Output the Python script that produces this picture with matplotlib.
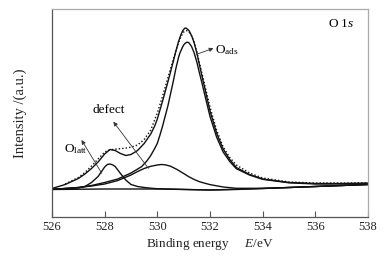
import matplotlib
matplotlib.use("Agg")
import matplotlib.pyplot as plt

plt.rcParams['font.family'] = ['Liberation Serif', 'DejaVu Serif']
plt.rcParams['mathtext.fontset'] = 'custom'
plt.rcParams['mathtext.rm'] = 'Liberation Serif'
plt.rcParams['mathtext.it'] = 'Liberation Serif:italic'

# O 1s XPS spectrum (intensity in a.u.)
bg_e = [526, 528, 530, 531, 532, 533, 534, 535, 536, 537, 538]
bg_i = [27.5, 28, 28, 27.5, 27, 27.5, 28.5, 29.5, 30.5, 31.5, 32.5]

latt_e = [526, 527, 527.25, 527.5, 527.75, 528, 528.1, 528.2, 528.3, 528.4, 528.6,
          528.8, 529, 529.25, 529.5, 529.75, 530, 531, 532, 534, 536, 538]
latt_i = [27.8, 29, 30.5, 34.5, 40.5, 50, 52.5, 53, 52.2, 50.5, 43.5,
          37, 32.5, 30.5, 29.5, 28.8, 28.3, 27.6, 27, 28.5, 30.5, 32.5]

defect_e = [526, 527, 527.5, 528, 528.5, 529, 529.25, 529.5, 529.75, 530, 530.15,
            530.3, 530.5, 530.75, 531, 531.2, 531.4, 531.6, 531.8, 532, 532.5,
            533, 534, 535, 536, 537, 538]
defect_i = [27.5, 29.5, 31, 33, 36.5, 42, 45.5, 48.5, 50.7, 52, 52.5,
            52.2, 50.8, 47.5, 43.5, 40.2, 37.5, 35.3, 33.8, 32.4, 30,
            28.7, 28.7, 29.5, 30.5, 31.5, 32.5]

ads_e = [526, 527, 527.5, 528, 528.5, 529, 529.4, 529.6, 529.75, 529.9, 530,
         530.1, 530.2, 530.4, 530.6, 530.7, 530.8, 530.85, 530.9, 530.95, 531.0,
         531.05, 531.1, 531.15, 531.2, 531.3, 531.4, 531.5, 531.6, 531.7, 531.8,
         532, 532.25, 532.5, 532.75, 533, 533.5, 534, 535, 536, 537, 538]
ads_i = [27.7, 29.5, 31.5, 34.5, 38, 44, 50.3, 56, 61.5, 68.5, 73.7,
         82, 91, 111, 135, 148, 159, 163.5, 166.5, 169.5, 172,
         173.5, 174.5, 174.8, 174.2, 170.5, 164, 155, 144, 133.5, 122.3,
         100.6, 80, 65, 55.5, 48.3, 42, 37.7, 34.2, 33, 33, 33.2]

env_e = [526, 526.5, 527, 527.25, 527.5, 527.75, 528, 528.2, 528.4, 528.6, 528.8,
         529, 529.25, 529.5, 529.75, 529.9, 530, 530.1, 530.2, 530.4, 530.6,
         530.7, 530.8, 530.85, 530.9, 530.95, 531.0, 531.05, 531.1, 531.2, 531.3,
         531.4, 531.5, 531.6, 531.7, 531.8, 532, 532.25, 532.5, 532.75, 533,
         533.5, 534, 535, 536, 537, 538]
env_i = [28.5, 32.5, 38.5, 43, 48.5, 55, 63, 67.5, 66.5, 63.5, 61.5,
         62.5, 66.5, 73.5, 83, 91, 98, 107, 116, 135, 155,
         165.5, 175, 179, 182.5, 185.5, 187.5, 189, 188.8, 186.5, 181.5,
         174, 164, 152, 140.5, 129, 106, 84, 68, 57.5, 49.5,
         42.5, 38, 34.5, 33.5, 33.5, 34]

raw_e = [526.5, 527, 527.25, 527.5, 527.75, 528, 528.2, 528.4, 528.6, 528.8, 529,
         529.25, 529.5, 529.75, 530, 530.2, 530.4, 530.6, 530.8, 530.9, 531.0,
         531.1, 531.2, 531.3, 531.4, 531.5, 531.6, 531.7, 531.8, 532, 532.25,
         532.5, 532.75, 533, 533.5, 534, 535, 536, 537, 538]
raw_i = [33, 39.5, 44.5, 51, 58, 65, 67.2, 67.8, 68.3, 68.9, 69.8,
         72, 77.5, 87, 104, 121, 139, 157, 174, 180.5, 185,
         186.5, 185, 181, 175, 165, 154, 143, 132, 110, 87,
         70, 59.5, 52, 44, 39, 35, 34, 34, 34]

fig = plt.figure(figsize=(3.85, 2.58), dpi=100)
ax = fig.add_axes([52 / 385, 41 / 258, 316 / 385, 208 / 258])

lc = '#111111'
ax.plot(bg_e, bg_i, color=lc, lw=1.0)
ax.plot(latt_e, latt_i, color=lc, lw=1.0)
ax.plot(defect_e, defect_i, color=lc, lw=1.0)
ax.plot(ads_e, ads_i, color=lc, lw=1.0)
ax.plot(env_e, env_i, color=lc, lw=1.0)
ax.plot(raw_e, raw_i, color=lc, lw=1.0, ls=(0, (1, 1.5)))

arrow = dict(arrowstyle='-|>', color='#333333', lw=0.6,
             mutation_scale=6, shrinkA=0, shrinkB=0)
ax.annotate('', xy=(532.13, 168.7), xytext=(531.49, 162.7), arrowprops=arrow)
ax.annotate('', xy=(528.33, 95.3), xytext=(529.66, 48.7), arrowprops=arrow)
ax.annotate('', xy=(527.12, 77), xytext=(527.89, 43.7), arrowprops=arrow)

ax.text(532.2, 163.7, r'O$_{\rm ads}$', fontsize=9.5, ha='left', va='baseline')
ax.text(528.16, 103.7, 'defect', fontsize=9.5, ha='center', va='baseline')
ax.text(526.45, 65, r'O$_{\rm latt}$', fontsize=9.5, ha='left', va='baseline')
ax.text(537.48, 190, r'O 1$\it{s}$', fontsize=9.5, ha='right', va='baseline')

ax.set_xlim(526, 538)
ax.set_ylim(0, 208)
ax.set_xticks([526, 528, 530, 532, 534, 536, 538])
ax.set_yticks([])
ax.tick_params(axis='x', direction='in', length=4, width=0.8, colors='#555555',
               labelcolor='#222222', labelsize=9, pad=3)
for side in ['left', 'bottom']:
    ax.spines[side].set_color('#555555')
    ax.spines[side].set_linewidth(0.9)
for side in ['top', 'right']:
    ax.spines[side].set_color('#aaaaaa')
    ax.spines[side].set_linewidth(0.9)

ax.set_xlabel(r'Binding energy     $\it{E}$/eV', fontsize=9.5, color='#222222', labelpad=2)
ax.set_ylabel('Intensity /(a.u.)', fontsize=10.5, color='#222222', labelpad=18)

fig.savefig('out.png', dpi=100)
